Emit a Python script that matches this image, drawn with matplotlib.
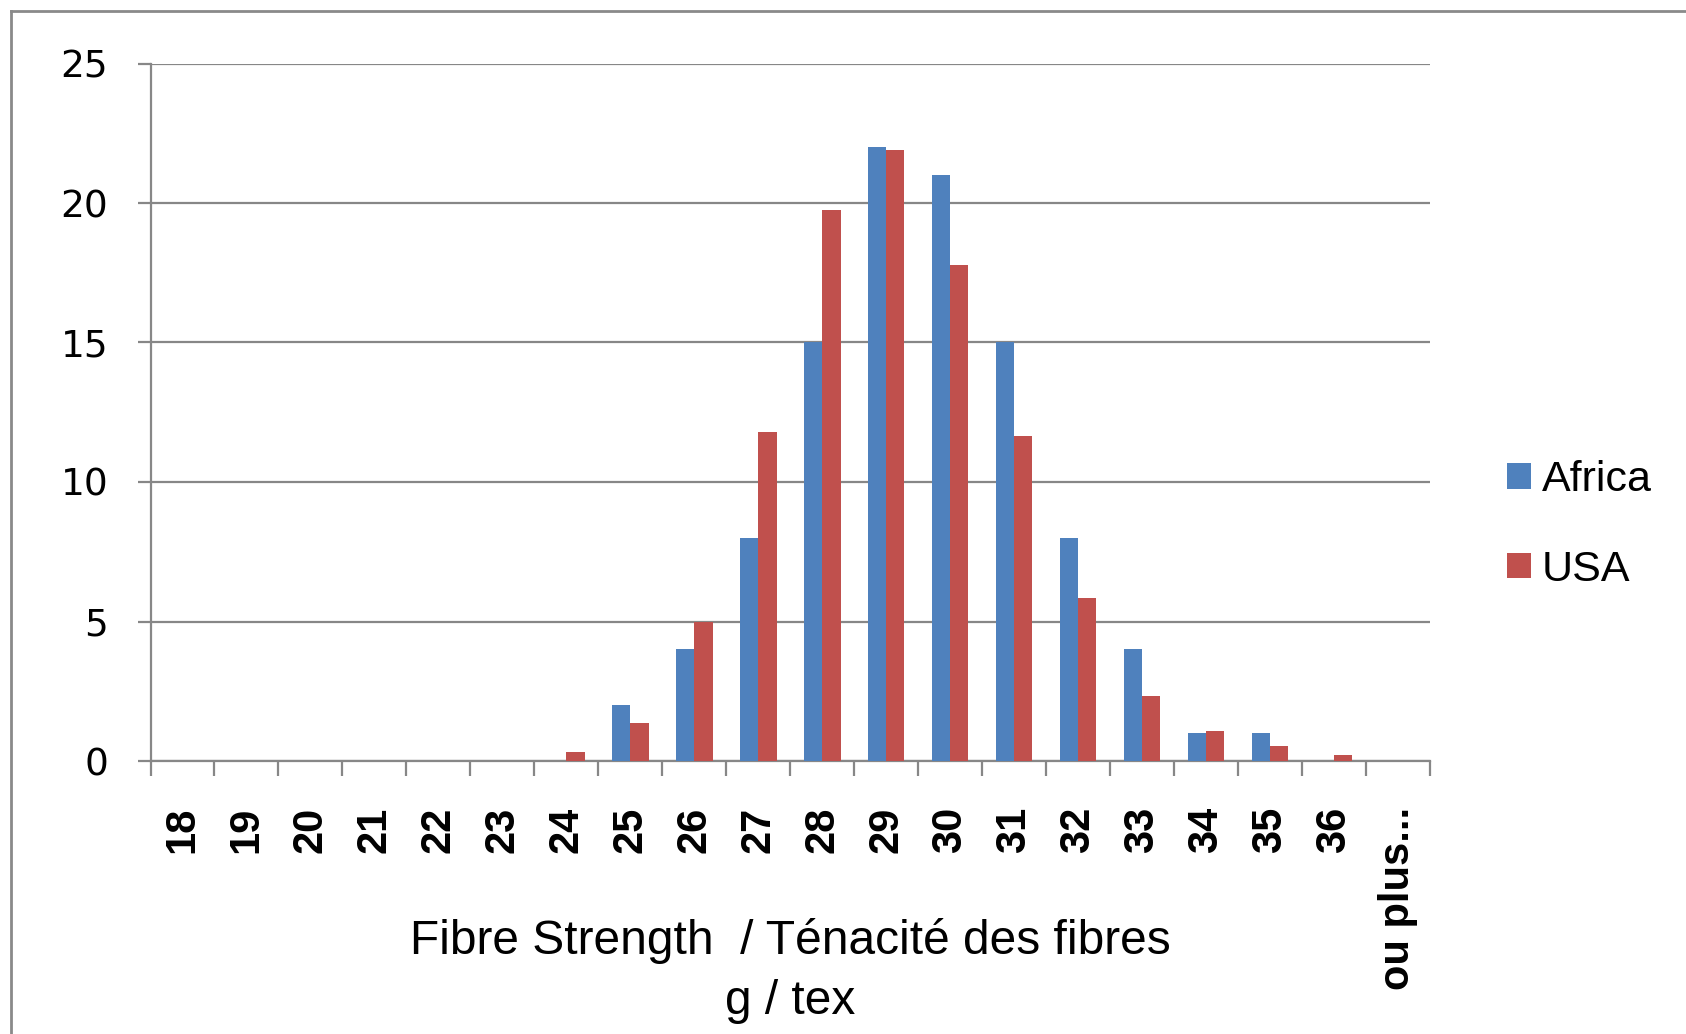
import matplotlib
matplotlib.use("Agg")
import matplotlib.pyplot as plt
from matplotlib.lines import Line2D
import numpy as np

categories = ["18", "19", "20", "21", "22", "23", "24", "25", "26", "27",
              "28", "29", "30", "31", "32", "33", "34", "35", "36", "ou plus..."]
africa = [0, 0, 0, 0, 0, 0, 0, 2, 4, 8, 15, 22, 21, 15, 8, 4, 1, 1, 0, 0]
usa = [0, 0, 0, 0, 0, 0, 0.33, 1.37, 5.0, 11.8, 19.75, 21.9, 17.77, 11.65,
       5.85, 2.32, 1.07, 0.55, 0.21, 0]
series_names = ["Africa", "USA"]
y_ticks = [0, 5, 10, 15, 20, 25]
xlabel_text = "Fibre Strength  / Ténacité des fibres\ng / tex"

BLUE = "#4F81BD"
RED = "#C0504D"
GRID = "#878787"

W, H = 1686, 1034
fig = plt.figure(figsize=(W / 100, H / 100), dpi=100)
fig.patch.set_facecolor("white")

left, right, top, bottom = 150.5, 1430, 63.5, 761
ax = fig.add_axes([left / W, 1 - bottom / H, (right - left) / W, (bottom - top) / H])

x = np.arange(len(categories))
bw = 1 / 3.5
ax.bar(x - bw / 2, africa, width=bw, color=BLUE, label=series_names[0], zorder=3, linewidth=0)
ax.bar(x + bw / 2, usa, width=bw, color=RED, label=series_names[1], zorder=3, linewidth=0)

ax.set_xlim(-0.5, len(categories) - 0.5)
ax.set_ylim(0, 25)

for s in ["top", "right"]:
    ax.spines[s].set_visible(False)
for s in ["left", "bottom"]:
    ax.spines[s].set_color(GRID)
    ax.spines[s].set_linewidth(1.6)

ax.set_yticks(y_ticks)
ax.set_yticklabels([str(v) for v in y_ticks], fontfamily="DejaVu Sans", fontsize=27)
ax.yaxis.grid(True, color=GRID, linewidth=1.6, zorder=0)
ax.tick_params(axis="y", direction="out", length=9.5, width=1.6, color=GRID, pad=21)

ax.set_xticks(x)
ax.set_xticklabels(categories, rotation=90, fontfamily="Liberation Sans",
                   fontsize=30, fontweight="bold", va="top")
ax.set_xticks(np.arange(len(categories) + 1) - 0.5, minor=True)
ax.tick_params(axis="x", which="major", length=0, pad=33)
ax.tick_params(axis="x", which="minor", direction="out", length=11, width=1.6, color=GRID)

ax.set_axisbelow(True)

fig.text((left + right) / 2 / W, 1 - 971 / H, xlabel_text, ha="center", va="center",
         fontfamily="Liberation Sans", fontsize=34.5, linespacing=1.4)

leg = fig.legend(loc="center left", bbox_to_anchor=(1507 / W, 1 - 525 / H),
                 frameon=False, prop={"family": "Liberation Sans", "size": 31},
                 handlelength=0.55, handleheight=0.55, handletextpad=0.25,
                 labelspacing=1.15, borderpad=0, borderaxespad=0)

# outer chart border
fig.add_artist(Line2D([11 / W, 11 / W], [0, 1 - 11 / H], transform=fig.transFigure,
                      color="#8a8a8a", linewidth=2))
fig.add_artist(Line2D([11 / W, 1], [1 - 11 / H, 1 - 11 / H], transform=fig.transFigure,
                      color="#8a8a8a", linewidth=2))

fig.savefig("out.png", dpi=100)
